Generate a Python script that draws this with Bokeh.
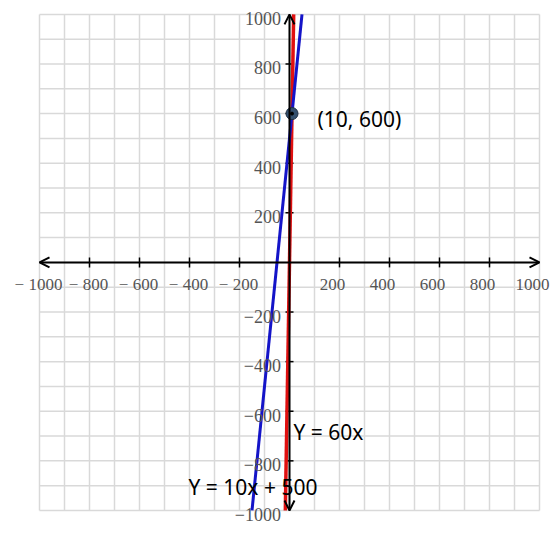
from bokeh.plotting import figure
from bokeh.models import Range1d, Arrow, OpenHead, ColumnDataSource
from bokeh.core.properties import value
from bokeh.embed import file_html
from bokeh.resources import INLINE

# grid every 100 units
grid_vals = list(range(-1000, 1001, 100))
# tick marks
tick_vals = [-800, -600, -400, -200, 200, 400, 600, 800]
# axis labels
x_label_vals = [-1000, -800, -600, -400, -200, 200, 400, 600, 800, 1000]
x_label_text = ["− 1000", "− 800", "− 600", "− 400", "− 200", "200", "400", "600", "800", "1000"]
y_label_vals = [1000, 800, 600, 400, 200, -200, -400, -600, -800, -1000]
y_label_text = ["1000", "800", "600", "400", "200", "−200", "−400", "−600", "−800", "−1000"]

# lines (endpoints)
red_x = [-16.7, 16.7]
red_y = [-1000, 1000]
blue_x = [-150, 50]
blue_y = [-1000, 1000]

# marked point
pt_x = [10]
pt_y = [600]

p = figure(width=552, height=535, output_backend="svg", toolbar_location=None,
           x_range=Range1d(-1156, 1052), y_range=Range1d(-1101, 1056),
           min_border=0)
p.axis.visible = False
p.grid.visible = False
p.outline_line_color = None
p.background_fill_color = "white"

# grid
gx = ColumnDataSource(dict(x0=grid_vals, y0=[-1000] * len(grid_vals),
                           x1=grid_vals, y1=[1000] * len(grid_vals)))
gy = ColumnDataSource(dict(x0=[-1000] * len(grid_vals), y0=grid_vals,
                           x1=[1000] * len(grid_vals), y1=grid_vals))
p.segment("x0", "y0", "x1", "y1", source=gx, line_color="#d9d9d9", line_width=1.5)
p.segment("x0", "y0", "x1", "y1", source=gy, line_color="#d9d9d9", line_width=1.5)

# ticks
p.segment(x0=tick_vals, y0=[-20] * len(tick_vals), x1=tick_vals, y1=[20] * len(tick_vals),
          line_color="black", line_width=1.5)
p.segment(x0=[-16] * len(tick_vals), y0=tick_vals, x1=[16] * len(tick_vals), y1=tick_vals,
          line_color="black", line_width=1.5)

# lines
p.line(red_x, red_y, line_color="#e01010", line_width=3.5)
p.line(blue_x, blue_y, line_color="#1414c8", line_width=3)

# axes with arrows
p.add_layout(Arrow(start=OpenHead(size=10, line_width=2), end=OpenHead(size=10, line_width=2),
                   x_start=-1000, y_start=0, x_end=1000, y_end=0,
                   line_color="black", line_width=2))
p.add_layout(Arrow(start=OpenHead(size=10, line_width=2), end=OpenHead(size=10, line_width=2),
                   x_start=0, y_start=-1000, x_end=0, y_end=1000,
                   line_color="black", line_width=2))

# point
p.scatter(pt_x, pt_y, size=12, fill_color="#34506e", line_color="#1e2f44", line_width=1)
p.scatter(pt_x, pt_y, size=3, fill_color="black", line_color="black")

# tick labels
neg_x = [v for v in x_label_vals if v < 0]
neg_xt = [t for v, t in zip(x_label_vals, x_label_text) if v < 0]
pos_x = [v for v in x_label_vals if v > 0]
pos_xt = [t for v, t in zip(x_label_vals, x_label_text) if v > 0]
p.text(neg_x, [0] * len(neg_x), text=neg_xt, text_align="center", text_baseline="middle",
       y_offset=22, x_offset=-1, text_font=value("Liberation Serif"), text_font_size="17px",
       text_color="#555555")
p.text(pos_x, [0] * len(pos_x), text=pos_xt, text_align="center", text_baseline="middle",
       y_offset=22, x_offset=-7, text_font=value("Liberation Serif"), text_font_size="17px",
       text_color="#555555")
p.text([-34] * len(y_label_vals), y_label_vals, text=y_label_text, text_align="right",
       text_baseline="middle", y_offset=4, text_font=value("Liberation Serif"),
       text_font_size="18px", text_color="#555555")

# annotations
p.text([112], [600], text=["(10, 600)"], text_align="left", text_baseline="middle", y_offset=5,
       text_font=value("Noto Sans"), text_font_size="21px", text_color="black")
p.text([16], [-685], text=["Y = 60x"], text_align="left", text_baseline="middle",
       text_font=value("Noto Sans"), text_font_size="21px", text_color="black")
p.text([-404], [-907], text=["Y = 10x + 500"], text_align="left", text_baseline="middle",
       text_font=value("Noto Sans"), text_font_size="21px", text_color="black")

open("out.html", "w").write(file_html(p, INLINE))
